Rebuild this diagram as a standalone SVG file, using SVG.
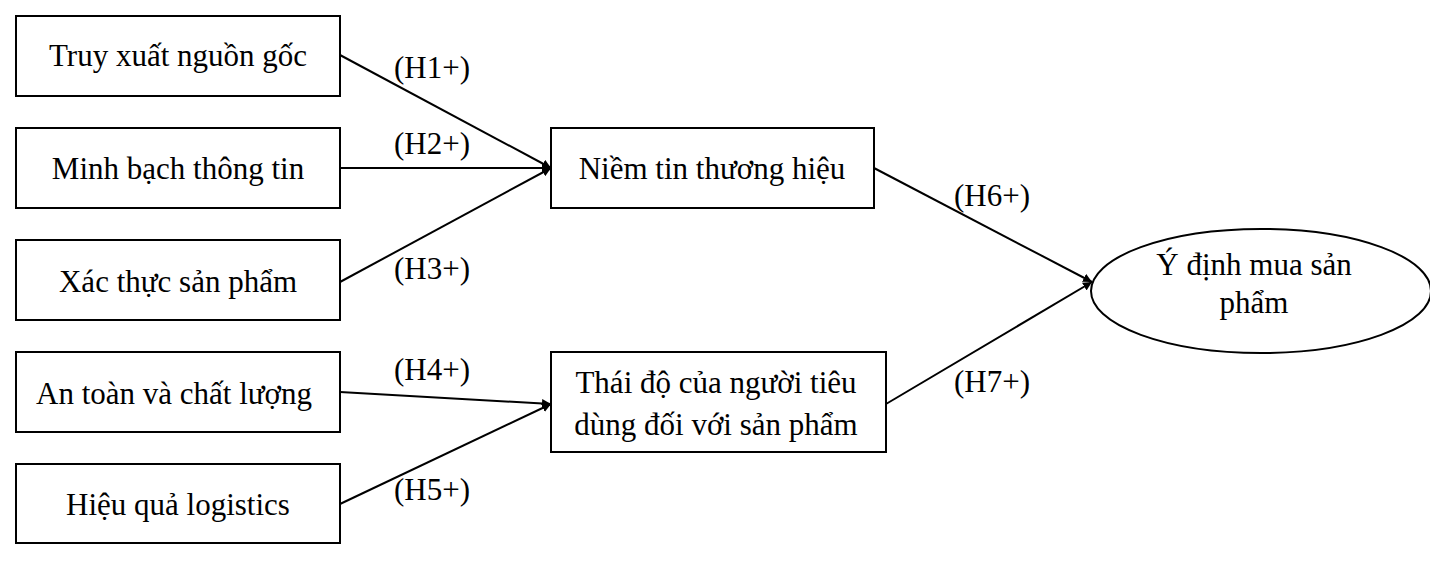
<svg xmlns="http://www.w3.org/2000/svg" width="1430" height="581" viewBox="0 0 1430 581">
<style>
.n rect,.n ellipse{fill:#fff;stroke:#000;stroke-width:2}
text{font-family:"Liberation Serif",serif;font-size:31px;fill:#000;text-anchor:middle}
.c line{stroke:#000;stroke-width:2;marker-end:url(#a)}
</style>
<defs><marker id="a" viewBox="0 0 10 10" refX="10" refY="5" markerWidth="9" markerHeight="9" orient="auto" markerUnits="userSpaceOnUse"><path d="M0,0L10,5L0,10z"/></marker></defs>
<g id="n1" class="n"><rect x="16" y="16" width="324" height="80"/><text x="178" y="66">Truy xuất nguồn gốc</text></g>
<g id="n2" class="n"><rect x="16" y="128" width="324" height="80"/><text x="178" y="179">Minh bạch thông tin</text></g>
<g id="n3" class="n"><rect x="16" y="240" width="324" height="80"/><text x="178" y="292">Xác thực sản phẩm</text></g>
<g id="n4" class="n"><rect x="16" y="352" width="324" height="80"/><text x="174" y="404">An toàn và chất lượng</text></g>
<g id="n5" class="n"><rect x="16" y="464" width="324" height="79"/><text x="178" y="515">Hiệu quả logistics</text></g>
<g id="n6" class="n"><rect x="551" y="128" width="323" height="80"/><text x="712" y="179">Niềm tin thương hiệu</text></g>
<g id="n7" class="n"><rect x="551" y="352" width="335" height="100"/><text x="716" y="393">Thái độ của người tiêu</text><text x="716" y="435">dùng đối với sản phẩm</text></g>
<g id="n8" class="n"><ellipse cx="1261" cy="291" rx="170" ry="62"/><text x="1254" y="275">Ý định mua sản</text><text x="1254" y="313">phẩm</text></g>
<g class="c">
<line x1="340" y1="55" x2="551" y2="168"/>
<line x1="340" y1="168" x2="551" y2="168"/>
<line x1="340" y1="282" x2="551" y2="168"/>
<line x1="340" y1="392" x2="551" y2="404"/>
<line x1="340" y1="504" x2="551" y2="404"/>
<line x1="874" y1="168" x2="1092" y2="282"/>
<line x1="886" y1="404" x2="1092" y2="282"/>
</g>
<g id="labels">
<text x="432" y="78">(H1+)</text>
<text x="432" y="154">(H2+)</text>
<text x="432" y="279">(H3+)</text>
<text x="432" y="380">(H4+)</text>
<text x="432" y="500">(H5+)</text>
<text x="992" y="206">(H6+)</text>
<text x="992" y="392">(H7+)</text>
</g>
</svg>
